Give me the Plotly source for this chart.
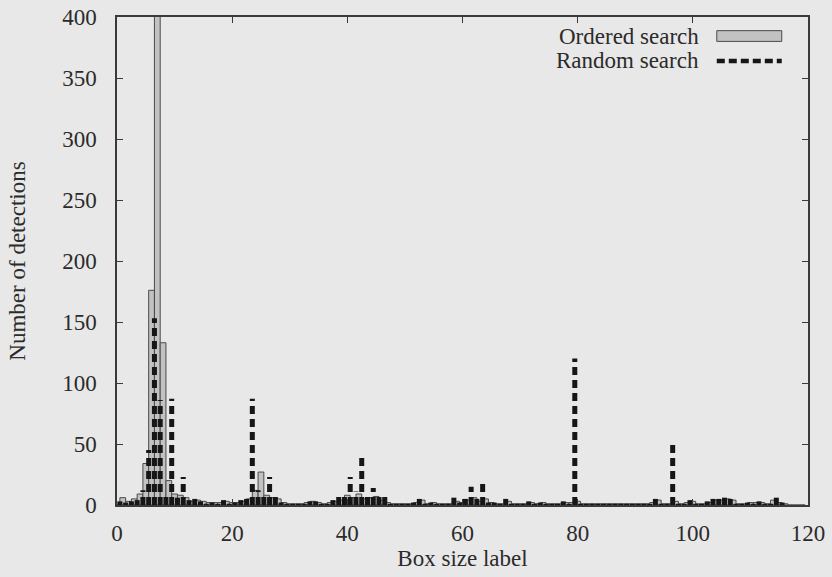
import plotly.graph_objects as go

# Box size labels 0..119
labels = list(range(120))

# Number of detections per box size label, ordered search
ordered = [
    0, 6, 3, 5, 9, 34, 176, 430, 133, 20,      # 0-9
    9, 8, 6, 3, 4, 3, 2, 2, 2, 3,              # 10-19
    2, 2, 3, 5, 12, 27, 8, 6, 5, 2,            # 20-29
    1, 1, 1, 2, 3, 2, 1, 2, 3, 4,              # 30-39
    8, 6, 9, 5, 6, 7, 4, 2, 1, 1,              # 40-49
    1, 1, 2, 4, 1, 2, 1, 1, 1, 3,              # 50-59
    2, 4, 6, 3, 5, 2, 1, 1, 3, 1,              # 60-69
    1, 1, 2, 1, 2, 1, 1, 1, 2, 2,              # 70-79
    3, 1, 1, 1, 1, 1, 1, 1, 1, 1,              # 80-89
    1, 1, 1, 2, 4, 1, 1, 3, 1, 2,              # 90-99
    3, 1, 1, 2, 4, 4, 5, 4, 1, 1,              # 100-109
    2, 2, 2, 1, 4, 2, 1, 0, 0, 0,              # 110-119
]

# Number of detections per box size label, random search
random_s = [
    0, 3, 2, 3, 4, 12, 45, 153, 86, 8,         # 0-9
    87, 6, 23, 4, 5, 3, 1, 2, 1, 4,            # 10-19
    1, 2, 4, 5, 87, 12, 7, 23, 7, 2,           # 20-29
    1, 1, 1, 1, 3, 3, 1, 1, 4, 8,              # 30-39
    8, 23, 11, 40, 8, 14, 8, 7, 1, 1,          # 40-49
    1, 1, 2, 5, 1, 2, 1, 1, 1, 6,              # 50-59
    2, 5, 15, 5, 19, 2, 2, 1, 5, 1,            # 60-69
    1, 1, 3, 1, 2, 1, 1, 1, 3, 1,              # 70-79
    120, 1, 1, 1, 1, 1, 1, 1, 1, 1,            # 80-89
    1, 1, 1, 1, 5, 1, 1, 52, 1, 1,             # 90-99
    4, 1, 1, 3, 5, 5, 6, 5, 1, 1,              # 100-109
    2, 1, 3, 1, 1, 6, 2, 0, 0, 0,              # 110-119
]

x_ticks = [0, 20, 40, 60, 80, 100, 120]
y_ticks = [0, 50, 100, 150, 200, 250, 300, 350, 400]

FONT = "Liberation Serif"
FS = 23
INK = "#2b2b2b"
BG = "#e8e8e8"
GRAY_FILL = "#c2c2c2"
BAR_EDGE = "#4a4a4a"

fig = go.Figure()

# Ordered search: filled boxes, one unit wide
fig.add_trace(go.Bar(
    x=labels, y=ordered, width=1.0,
    marker=dict(color=GRAY_FILL, line=dict(color=BAR_EDGE, width=1)),
    name="Ordered search", showlegend=False,
))

# Random search: thick dashed impulses drawn on the bin's left step edge
imp_x, imp_y = [], []
for lab, v in zip(labels, random_s):
    if v <= 0:
        continue
    xe = lab - 0.5
    imp_x += [xe, xe, None]
    imp_y += [0, v, None]

fig.add_trace(go.Scatter(
    x=imp_x, y=imp_y, mode="lines",
    line=dict(color="#161616", width=5, dash="8px,5px"),
    name="Random search", showlegend=False, hoverinfo="skip",
))

axis_common = dict(
    showline=True, linecolor="#3a3a3a", linewidth=1.5, mirror="ticks",
    ticks="inside", ticklen=6, tickcolor="#3a3a3a", tickwidth=1,
    showgrid=False, zeroline=False, automargin=False,
    tickfont=dict(family=FONT, size=FS, color=INK),
)

fig.update_layout(
    width=832, height=577,
    margin=dict(l=117, r=24, t=17, b=72),
    paper_bgcolor=BG, plot_bgcolor=BG,
    barmode="overlay",
    showlegend=False,
    xaxis=dict(
        range=[0, 120], tickvals=x_ticks,
        ticklabelstandoff=7,
        title=dict(text="Box size label", font=dict(family=FONT, size=FS, color=INK), standoff=5),
        **axis_common,
    ),
    yaxis=dict(
        range=[0, 400], tickvals=y_ticks,
        ticklabelstandoff=14,
        title=dict(text="Number of detections", font=dict(family=FONT, size=FS, color=INK), standoff=30),
        **axis_common,
    ),
)

# Key in the upper right corner: text right-aligned, sample to its right
key_rows = [("Ordered search", 0.961), ("Random search", 0.910)]
for text, yk in key_rows:
    fig.add_annotation(
        text=text, xref="paper", yref="paper", x=0.845, y=yk,
        xanchor="right", yanchor="middle", showarrow=False,
        font=dict(family=FONT, size=FS, color=INK),
    )

fig.add_shape(
    type="rect", xref="paper", yref="paper",
    x0=0.868, x1=0.962, y0=0.950, y1=0.972,
    fillcolor=GRAY_FILL, line=dict(color=BAR_EDGE, width=1),
)
fig.add_shape(
    type="line", xref="paper", yref="paper",
    x0=0.868, x1=0.962, y0=0.910, y1=0.910,
    line=dict(color="#161616", width=4.5, dash="8px,4px"),
)

fig.write_html("out.html")
